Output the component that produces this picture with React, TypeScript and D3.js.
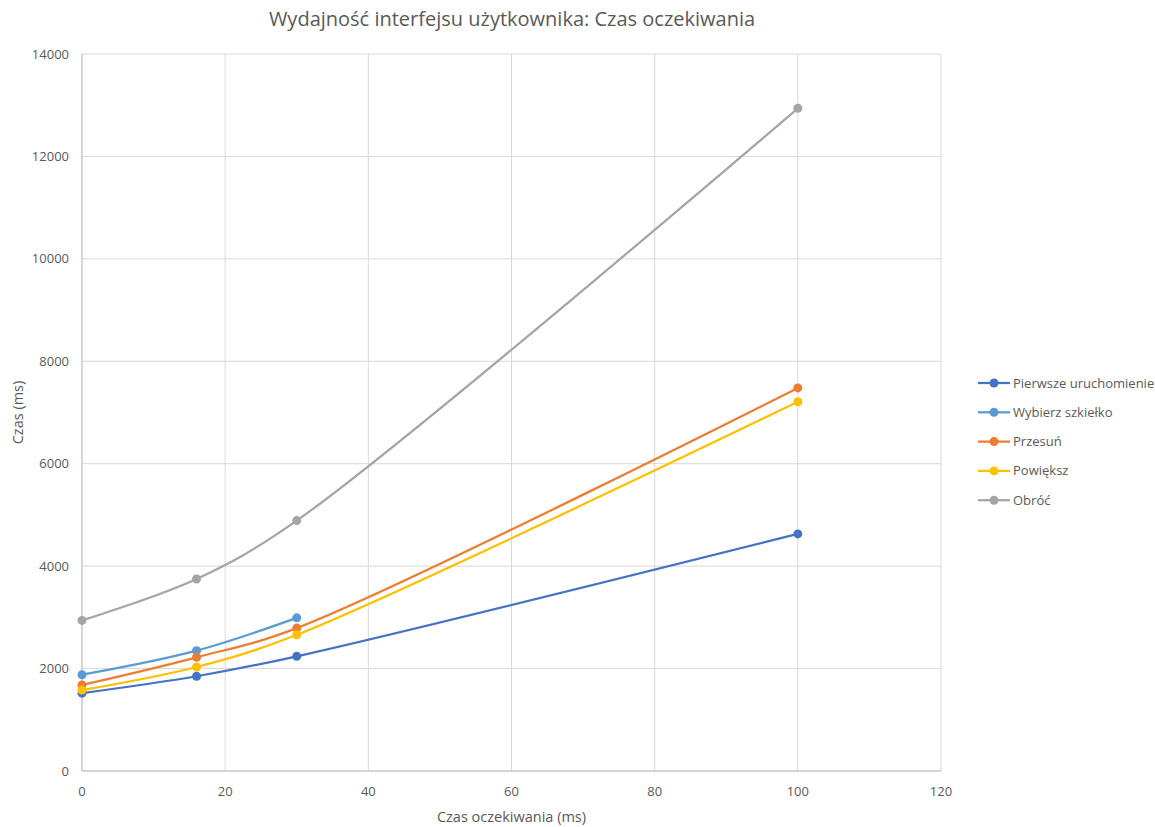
import React, { useEffect, useRef } from 'react';
import * as d3 from 'd3';

// Opóźnienia (ms) i czasy dla każdej operacji
const delays = [0, 16, 30, 100];

const seriesNames = ['Pierwsze uruchomienie', 'Wybierz szkiełko', 'Przesuń', 'Powiększ', 'Obróć'];
const seriesColors = ['#4472C4', '#5B9BD5', '#ED7D31', '#FFC000', '#A5A5A5'];

const firstLaunch = [1520, 1850, 2240, 4630];
const selectSlide = [1880, 2350, 2990];
const pan = [1680, 2220, 2790, 7480];
const zoomIn = [1580, 2030, 2660, 7210];
const rotate = [2940, 3750, 4890, 12940];

const seriesValues = [firstLaunch, selectSlide, pan, zoomIn, rotate];

const xTicks = [0, 20, 40, 60, 80, 100, 120];
const yTicks = [0, 2000, 4000, 6000, 8000, 10000, 12000, 14000];

const W = 1155;
const H = 827;
const FONT = "'Open Sans', 'Liberation Sans', sans-serif";

export default function App() {
    const svgRef = useRef<SVGSVGElement>(null);

    useEffect(() => {
        if (!svgRef.current) return;
        const svg = d3.select(svgRef.current);
        svg.selectAll('*').remove();

        const margin = { top: 54, left: 82, right: 214, bottom: 56 };
        const x = d3.scaleLinear().domain([0, 120]).range([margin.left, W - margin.right]);
        const y = d3.scaleLinear().domain([0, 14000]).range([H - margin.bottom, margin.top]);

        // grid
        svg.append('g')
            .selectAll('line.vgrid')
            .data(xTicks)
            .enter().append('line')
            .attr('x1', d => x(d)).attr('x2', d => x(d))
            .attr('y1', y(0)).attr('y2', y(14000))
            .attr('stroke', '#d9d9d9').attr('stroke-width', 1);

        svg.append('g')
            .selectAll('line.hgrid')
            .data(yTicks)
            .enter().append('line')
            .attr('x1', x(0)).attr('x2', x(120))
            .attr('y1', d => y(d)).attr('y2', d => y(d))
            .attr('stroke', '#d9d9d9').attr('stroke-width', 1);

        // axis lines
        svg.append('line')
            .attr('x1', x(0)).attr('x2', x(120)).attr('y1', y(0)).attr('y2', y(0))
            .attr('stroke', '#bfbfbf').attr('stroke-width', 1);
        svg.append('line')
            .attr('x1', x(0)).attr('x2', x(0)).attr('y1', y(0)).attr('y2', y(14000))
            .attr('stroke', '#bfbfbf').attr('stroke-width', 1);

        // tick labels
        svg.append('g')
            .selectAll('text')
            .data(yTicks)
            .enter().append('text')
            .attr('x', x(0) - 13)
            .attr('y', d => y(d))
            .attr('dy', '0.35em')
            .attr('text-anchor', 'end')
            .style('font-family', FONT)
            .style('font-size', '13px')
            .style('fill', '#595959')
            .text(d => d);

        svg.append('g')
            .selectAll('text')
            .data(xTicks)
            .enter().append('text')
            .attr('x', d => x(d))
            .attr('y', y(0) + 20)
            .attr('dy', '0.35em')
            .attr('text-anchor', 'middle')
            .style('font-family', FONT)
            .style('font-size', '13px')
            .style('fill', '#595959')
            .text(d => d);

        // titles
        svg.append('text')
            .attr('x', 512).attr('y', 26)
            .attr('text-anchor', 'middle')
            .style('font-family', FONT)
            .style('font-size', '20px')
            .style('fill', '#595959')
            .text('Wydajność interfejsu użytkownika: Czas oczekiwania');

        svg.append('text')
            .attr('x', (x(0) + x(120)) / 2).attr('y', 822)
            .attr('text-anchor', 'middle')
            .style('font-family', FONT)
            .style('font-size', '14.5px')
            .style('fill', '#595959')
            .text('Czas oczekiwania (ms)');

        svg.append('text')
            .attr('transform', `translate(23,${(y(0) + y(14000)) / 2}) rotate(-90)`)
            .attr('text-anchor', 'middle')
            .style('font-family', FONT)
            .style('font-size', '14.5px')
            .style('fill', '#595959')
            .text('Czas (ms)');

        // lines
        const line = d3.line<[number, number]>()
            .x(d => x(d[0]))
            .y(d => y(d[1]))
            .curve(d3.curveCatmullRom.alpha(0.5));

        seriesValues.forEach((vals, i) => {
            const pts: [number, number][] = vals.map((v, j) => [delays[j], v]);
            svg.append('path')
                .datum(pts)
                .attr('d', line)
                .attr('fill', 'none')
                .attr('stroke', seriesColors[i])
                .attr('stroke-width', 2.25)
                .attr('stroke-linecap', 'round');
            svg.append('g')
                .selectAll('circle')
                .data(pts)
                .enter().append('circle')
                .attr('cx', d => x(d[0]))
                .attr('cy', d => y(d[1]))
                .attr('r', 4.5)
                .attr('fill', seriesColors[i]);
        });

        // legend
        const legend = svg.append('g').attr('transform', 'translate(978,383)');
        seriesNames.forEach((name, i) => {
            const row = legend.append('g').attr('transform', `translate(0,${i * 29.3})`);
            row.append('line')
                .attr('x1', 0).attr('x2', 32).attr('y1', 0).attr('y2', 0)
                .attr('stroke', seriesColors[i]).attr('stroke-width', 2.25);
            row.append('circle')
                .attr('cx', 16).attr('cy', 0).attr('r', 4.5)
                .attr('fill', seriesColors[i]);
            row.append('text')
                .attr('x', 35).attr('y', 0).attr('dy', '0.35em')
                .style('font-family', FONT)
                .style('font-size', '13px')
                .style('fill', '#595959')
                .text(name);
        });
    }, []);

    return (
        <svg
            ref={svgRef}
            width={W}
            height={H}
            style={{ position: 'fixed', left: 0, top: 0, background: '#fff' }}
        />
    );
}
